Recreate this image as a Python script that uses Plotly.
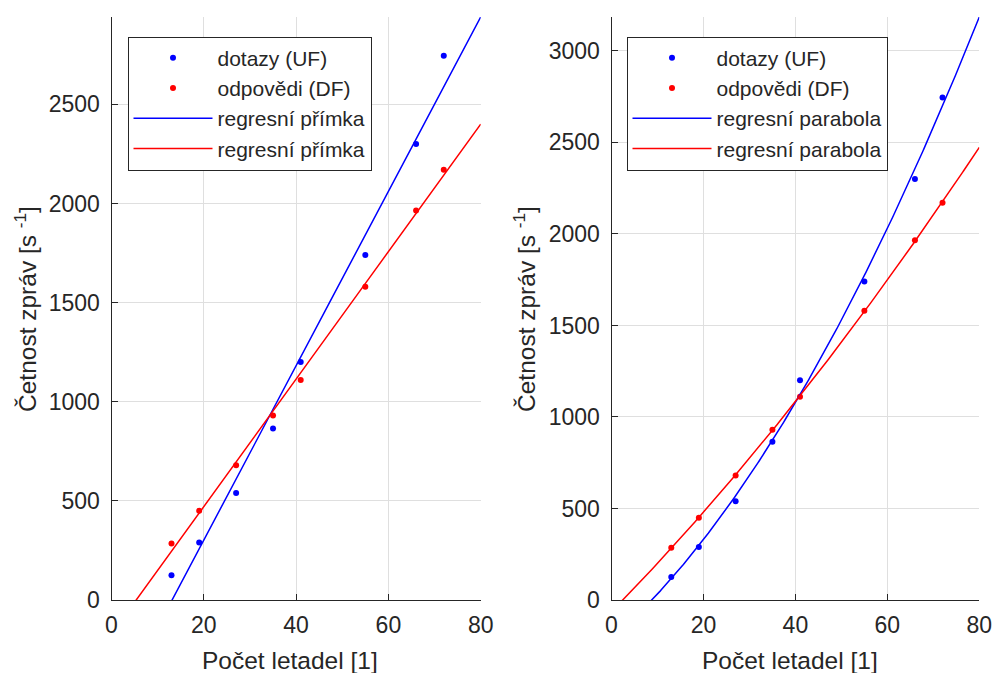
import numpy as np
import plotly.graph_objects as go

# ---- data ----
letadla = [13, 19, 27, 35, 41, 55, 66, 72]
dotazy_uf = [125, 290, 540, 865, 1200, 1740, 2300, 2745]
odpovedi_df = [285, 450, 680, 930, 1110, 1580, 1965, 2170]
x_ticks = [0, 20, 40, 60, 80]
y_ticks_left = [0, 500, 1000, 1500, 2000, 2500]
y_ticks_right = [0, 500, 1000, 1500, 2000, 2500, 3000]

BLUE = "#0000ff"
RED = "#ff0000"
AX = "#262626"
GRID = "#dfdfdf"
FONT = "Liberation Sans, Arial, sans-serif"

W, H = 995, 673


def px(xp):
    return xp / W


def py(yp):
    return 1 - yp / H


xs = np.linspace(0, 80, 400)

fit_lin_b = np.polyfit(letadla, dotazy_uf, 1)
fit_lin_r = np.polyfit(letadla, odpovedi_df, 1)
fit_par_b = np.polyfit(letadla, dotazy_uf, 2)
fit_par_r = np.polyfit(letadla, odpovedi_df, 2)

fig = go.Figure()

# left panel
fig.add_trace(go.Scatter(x=letadla, y=dotazy_uf, mode="markers", name="dotazy (UF)",
                         marker=dict(color=BLUE, size=6), xaxis="x", yaxis="y", legend="legend"))
fig.add_trace(go.Scatter(x=letadla, y=odpovedi_df, mode="markers", name="odpovědi (DF)",
                         marker=dict(color=RED, size=6), xaxis="x", yaxis="y", legend="legend"))
fig.add_trace(go.Scatter(x=xs, y=np.polyval(fit_lin_b, xs), mode="lines", name="regresní přímka",
                         line=dict(color=BLUE, width=1.5), xaxis="x", yaxis="y", legend="legend"))
fig.add_trace(go.Scatter(x=xs, y=np.polyval(fit_lin_r, xs), mode="lines", name="regresní přímka",
                         line=dict(color=RED, width=1.5), xaxis="x", yaxis="y", legend="legend"))

# right panel
fig.add_trace(go.Scatter(x=letadla, y=dotazy_uf, mode="markers", name="dotazy (UF)",
                         marker=dict(color=BLUE, size=6), xaxis="x2", yaxis="y2", legend="legend2"))
fig.add_trace(go.Scatter(x=letadla, y=odpovedi_df, mode="markers", name="odpovědi (DF)",
                         marker=dict(color=RED, size=6), xaxis="x2", yaxis="y2", legend="legend2"))
fig.add_trace(go.Scatter(x=xs, y=np.polyval(fit_par_b, xs), mode="lines", name="regresní parabola",
                         line=dict(color=BLUE, width=1.5), xaxis="x2", yaxis="y2", legend="legend2"))
fig.add_trace(go.Scatter(x=xs, y=np.polyval(fit_par_r, xs), mode="lines", name="regresní parabola",
                         line=dict(color=RED, width=1.5), xaxis="x2", yaxis="y2", legend="legend2"))

ydom = [py(600), py(17)]


def xax(x0, x1):
    return dict(domain=[px(x0), px(x1)], range=[0, 80], tickvals=x_ticks, ticks="inside",
                ticklen=6, tickcolor=AX, showline=True, linecolor=AX, linewidth=1,
                mirror=False, showgrid=True, gridcolor=GRID, gridwidth=1, zeroline=False,
                automargin=False, tickfont=dict(size=23, color=AX, family=FONT),
                ticklabelstandoff=4)


def yax(anchor, top, ticks):
    return dict(domain=ydom, anchor=anchor, range=[0, top], tickvals=ticks, ticks="inside",
                ticklen=6, tickcolor=AX, showline=True, linecolor=AX, linewidth=1,
                mirror=False, showgrid=True, gridcolor=GRID, gridwidth=1, zeroline=False,
                automargin=False, tickfont=dict(size=23, color=AX, family=FONT),
                ticklabelstandoff=6)


top_left = float(np.polyval(fit_lin_b, 80))
top_right = float(np.polyval(fit_par_b, 80))

legend_style = dict(bgcolor="white", bordercolor=AX, borderwidth=1,
                    font=dict(size=21, color=AX, family=FONT), itemwidth=79,
                    xanchor="left", yanchor="top", tracegroupgap=0)

ylab = "Četnost zpráv [s <sup>-1</sup>]"
xlab = "Počet letadel [1]"
lab_font = dict(size=24.5, color=AX, family=FONT)

fig.update_layout(
    width=W, height=H, autosize=False,
    margin=dict(l=0, r=0, t=0, b=0, pad=0, autoexpand=False),
    paper_bgcolor="white", plot_bgcolor="white",
    xaxis=xax(111.5, 480.7),
    yaxis=yax("x", top_left, y_ticks_left),
    xaxis2=xax(611.5, 979.3),
    yaxis2=yax("x2", top_right, y_ticks_right),
    legend=dict(x=px(127.5), y=py(36.5), **legend_style),
    legend2=dict(x=px(626.5), y=py(36.5), **legend_style),
    annotations=[
        dict(text=xlab, x=px(290), y=py(660), xref="paper", yref="paper",
             showarrow=False, font=lab_font, xanchor="center", yanchor="middle"),
        dict(text=xlab, x=px(790), y=py(660), xref="paper", yref="paper",
             showarrow=False, font=lab_font, xanchor="center", yanchor="middle"),
        dict(text=ylab, x=px(26), y=py(309), xref="paper", yref="paper", textangle=-90,
             showarrow=False, font=lab_font, xanchor="center", yanchor="middle"),
        dict(text=ylab, x=px(525), y=py(309), xref="paper", yref="paper", textangle=-90,
             showarrow=False, font=lab_font, xanchor="center", yanchor="middle"),
    ],
)

fig.write_html(
    "out.html",
    config={"displayModeBar": False},
    post_script="document.body.style.margin='0px';document.body.style.overflow='hidden';",
)
